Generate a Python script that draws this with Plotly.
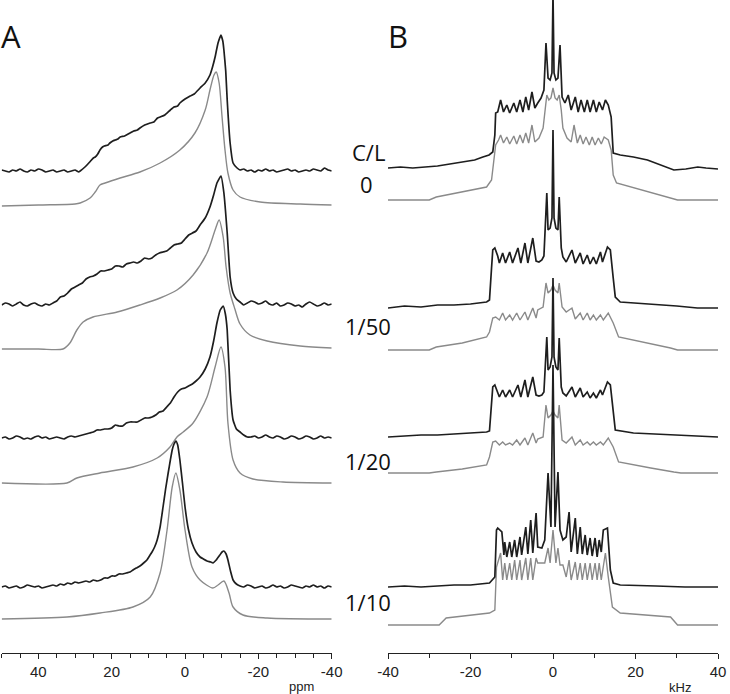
import plotly.graph_objects as go

# ---------------- Panel A (ppm) ----------------
a1_blk_x = [50,49,48,47,46,45,44,43,42,41,40,39,38,37,36,35,34,33,32,31,30,29,28.6,27.3,26,25,24.5,23.8,23.2,22.5,22,21,20.5,19.7,19,18.3,17.7,16.5,15,14,13,12.3,11,9.5,8.5,7.5,6.8,5.5,4,3,2,1.4,0,-1.4,-2.5,-4.1,-5.5,-6.8,-7.5,-8.2,-9,-9.8,-10.3,-10.6,-11.1,-11.5,-12.3,-13.1,-14.2,-15,-16,-17,-18,-19,-20,-21,-22,-23,-24,-25,-26,-27,-28,-29,-30,-31,-32,-33,-34,-35,-36,-37,-38,-39,-40]
a1_blk_y = [1,0,-1,1,0,2,0,-1,1,0,2,1,-1,0,1,-1,0,1,-1,0,1,-1,0,4,9,13,14,17,21,24,25,26,28,30,31,32,34,35,38,40,41,43,46,48,49,53,54,56,61,64,65,68,72,75,77,83,88,96,104,114,128,136,130,121,100,71,28,8,3,1,2,0,1,-1,1,0,2,0,1,-1,0,1,2,0,1,-1,0,1,0,2,1,0,3,1,0]
a1_gry_x = [50,40,30,28.6,25.9,24.5,23.2,21.8,17.7,12.3,6.8,1.4,-2.7,-5.5,-6.8,-7.9,-8.5,-9.3,-10.1,-10.9,-11.7,-13.1,-15,-20.5,-31.4,-40]
a1_gry_y = [0,1,2,3,8,14,21,23,28,34,43,56,73,96,116,131,134,123,89,56,33,16,9,4,2,1]

a2_blk_x = [50,49,48,47,46,45,44,43,42,41,40,39,38,37,36,35,34,33,32,31,30,29,28,27,26,25,24,23,22,21,20,19,18,17,16,15,14,13,12,11,10,9,8,7,6,5,4,3,2,1,0,-1,-2,-3,-4.1,-5.5,-6.8,-7.8,-8.7,-9.8,-10.6,-11.5,-12.3,-13.1,-14,-15,-16,-17,-18,-19,-20,-21,-22,-23,-24,-25,-26,-27,-28,-29,-30,-31,-32,-33,-34,-35,-36,-37,-38,-39,-40]
a2_blk_y = [0,2,1,-1,1,3,0,-1,1,2,0,-1,1,0,2,4,8,9,12,16,18,20,22,26,28,29,31,34,34,35,36,39,39,38,41,42,43,42,44,47,46,47,50,52,53,54,57,60,61,62,66,70,72,74,80,87,98,110,122,129,112,72,28,12,6,3,0,2,4,3,1,2,4,1,0,2,-1,0,2,1,-1,0,-2,1,3,1,-1,0,2,0,1]
a2_gry_x = [50,40,33.3,31.4,29.5,27.8,25.1,18.5,12.3,6.8,2.2,-2.2,-6,-8.2,-9.3,-10.4,-11.2,-12.3,-13.6,-15,-17.7,-22.4,-31.4,-40]
a2_gry_y = [0,0,0,6,19,27,32,37,44,51,59,74,96,119,129,112,82,56,40,25,14,8,3,1]

a3_blk_x = [50,49,48,47,46,45,44,43,42,41,40,39,38,37,36,35,34,33,32,31,30,29,28,27,26,25,24,23,22,21,20,19,18,17,16,15,14,13,12,11,10,9,8,7,6,5,4,3,2,1,0,-1,-2,-3,-4.1,-5.5,-6.8,-7.8,-8.7,-9.6,-10.4,-11,-11.5,-12.3,-13.1,-14,-15,-16,-17,-18,-19,-20,-21,-22,-23,-24,-25,-26,-27,-28,-29,-30,-31,-32,-33,-34,-35,-36,-37,-38,-39,-40]
a3_blk_y = [0,1,-1,0,2,1,-1,0,-1,1,2,0,1,-1,0,1,0,-1,1,2,1,2,3,4,5,6,8,8,9,9,10,13,12,12,15,16,16,16,18,20,20,21,23,26,27,31,35,41,46,49,50,52,54,57,61,69,81,97,115,128,132,124,108,48,18,9,6,3,1,1,2,0,1,3,1,0,2,1,-1,0,2,1,-1,0,2,1,-1,0,2,0,1,0]
a3_gry_x = [50,32.2,29.5,23.2,14.2,7.6,4.1,2.2,0.5,-2.2,-6,-8.2,-9.8,-10.9,-11.7,-13.1,-15,-18.5,-26.7,-40]
a3_gry_y = [0,0,5,10,16,25,36,46,51,60,86,116,136,116,60,23,10,4,1,0]

a4_blk_x = [50,49,48,47,46,45,44,43,42,41,40,39,38,37,36,35,34,33,32,31,30,29,28,27,26,25,24,23,22,21,20,19,18,17,16,15,14.2,13.3,12.3,11.3,10.4,9.7,9,8.3,7.6,6.8,6,5.3,4.6,4,3.5,3,2.5,2,1.4,0.7,0,-0.9,-1.9,-3,-4.1,-5,-6,-7,-7.6,-8.5,-9.5,-10.1,-10.6,-11.2,-11.7,-12.4,-13.1,-14,-15,-16,-17,-18,-19,-20,-21,-22,-23,-24,-25,-26,-27,-28,-29,-30,-31,-32,-33,-34,-35,-36,-37,-38,-39,-40]
a4_blk_y = [0,1,-1,0,1,-1,0,2,1,0,1,-1,0,1,2,1,3,2,4,3,5,4,5,6,5,7,6,7,9,9,11,11,13,13,14,15,17,19,21,24,27,31,35,40,47,60,80,98,114,127,137,143,146,142,127,104,80,58,44,35,30,28,26,25,24,27,32,35,36,33,27,16,7,3,1,0,2,1,-1,0,1,-1,0,2,0,1,-1,0,2,1,0,-1,1,0,2,0,1,-1,1,0]
a4_gry_x = [50,32.2,23.2,14.2,9.5,6.8,4.9,3.5,2.5,1.4,0,-1.9,-4.1,-7.6,-9,-10.6,-12,-13.1,-15.8,-22.4,-40]
a4_gry_y = [0,2,6,12,22,46,89,132,146,129,89,52,39,31,34,38,26,12,4,1,0]

a_blk_offsets = [482, 348, 215, 66]
a_gry_offsets = [447, 304, 170, 34]

# ---------------- Panel B (kHz) ----------------
b1_blk_x = [-40,-37,-34,-31,-28,-25,-22,-19,-17,-15.5,-14.6,-14.1,-13.9,-13.4,-12.7,-12,-11.2,-10.5,-9.5,-8.8,-8,-7.3,-6.6,-5.9,-5.1,-4.4,-3.7,-2.9,-2.2,-1.7,-1.2,-0.7,-0.25,0,0.25,0.7,1.2,1.7,2.2,2.9,3.7,4.4,5.4,6.1,6.8,7.6,8.3,9,9.8,10.5,11.2,12,12.7,13.4,14.1,14.6,16.3,19.5,22.9,26.1,29.3,32.2,35.1,37.1,40]
b1_blk_y = [0,1,0,1,2,4,6,8,11,13,16,33,55,56,68,56,63,55,65,56,68,56,71,58,76,60,65,70,78,125,90,88,95,175,95,88,90,123,71,65,73,58,71,56,68,56,68,56,68,56,66,58,68,63,51,15,13,11,8,3,-2,-1,1,0,-1]
b1_gry_x = [-40,-35,-30,-28.3,-22,-16.1,-14.9,-14.4,-13.9,-13.2,-12.7,-12,-11.2,-10.5,-9.5,-8.8,-8,-7.3,-6.6,-5.9,-5.1,-4.4,-3.4,-2.4,-2,-1.5,-1,-0.5,0,0.5,1,1.5,2,2.4,3.4,4.4,5.1,5.9,6.6,7.3,8,8.8,9.5,10.2,11,11.7,12.4,13.4,14.1,14.6,15.4,18.8,23.7,28.5,30.2,40]
b1_gry_y = [0,0,0,3,8,13,20,40,55,60,65,57,63,56,64,56,65,57,67,57,75,58,62,72,90,105,100,102,112,102,100,105,90,72,62,58,75,57,65,56,63,55,63,55,62,56,63,60,50,25,17,13,8,2,0,0]

b2_blk_x = [-40,-36,-32,-28,-24,-20,-16.1,-15.4,-14.9,-14.6,-14.1,-13.4,-13,-12.2,-11.5,-10.5,-9.8,-8.5,-7.8,-6.8,-6.1,-4.9,-4.1,-3.4,-2.7,-2.2,-1.5,-1.2,-0.7,-0.25,0,0.25,0.7,1.2,1.5,2,2.4,3.2,4.6,5.4,6.6,7.3,8.3,9,9.8,10.5,11.5,12,13.2,13.9,14.6,15.1,16.3,20,25,30,35,40]
b2_blk_y = [0,2,1,3,3,4,6,8,40,58,60,52,45,55,45,56,45,60,45,65,45,70,47,46,48,52,115,78,80,90,178,90,80,78,111,60,51,46,58,45,55,44,53,44,51,44,56,46,61,58,30,11,6,5,3,2,0,0]
b2_gry_x = [-40,-30,-28.3,-22,-16.1,-15.4,-14.6,-13.9,-13,-12.2,-11.5,-10.5,-9.8,-8.8,-8,-6.8,-6.1,-4.9,-4.1,-3.7,-2.4,-1.7,-1.2,-0.5,0,0.5,1.2,1.5,2.2,3.2,4.6,5.4,6.6,7.3,8.3,9,9.8,10.5,11.5,12.2,13.4,14.6,15.9,19.5,23.7,28.5,30.2,40]
b2_gry_y = [0,0,3,7,13,18,32,33,30,37,30,35,30,37,30,38,30,42,32,40,43,67,57,60,65,60,57,67,43,38,42,31,37,30,37,30,35,30,35,30,37,27,13,10,6,2,0,0]

b3_blk_x = [-40,-36,-32,-28,-24,-20,-16.1,-15.4,-14.9,-14.6,-14.1,-13.4,-13,-12.2,-11.5,-10.5,-9.8,-8.5,-7.8,-6.8,-6.1,-4.9,-4.1,-3.4,-2.7,-2.2,-1.5,-1.2,-0.7,-0.25,0,0.25,0.7,1.2,1.5,2,2.4,3.2,4.6,5.4,6.6,7.3,8.3,9,9.8,10.5,11.5,12,13.2,13.9,14.6,15.1,19.5,25,31,36,40]
b3_blk_y = [0,1,2,2,3,4,5,6,35,50,52,43,40,47,40,47,40,52,40,57,40,60,42,41,42,45,100,67,70,80,159,80,70,67,99,50,44,41,50,40,49,40,45,39,44,39,47,42,55,52,25,7,4,3,2,1,0]
b3_gry_x = [-40,-30,-28.3,-22,-16.1,-15.4,-14.6,-13.9,-13,-12.2,-11.5,-10.5,-9.8,-8.8,-8,-6.8,-6.1,-4.9,-4.1,-3.7,-2.4,-1.7,-1.2,-0.5,0,0.5,1.2,1.5,2.2,3.2,4.6,5.4,6.6,7.3,8.3,9,9.8,10.5,11.5,12.2,13.4,14.6,15.9,19.5,23.7,29.3,31,40]
b3_gry_y = [0,0,1,4,8,16,31,32,28,31,28,30,28,33,28,35,28,40,30,34,36,68,55,58,62,58,55,68,33,30,36,28,33,28,31,28,31,28,31,28,35,26,11,8,5,1,0,0]

b4_blk_x = [-40,-36,-32,-28,-24,-20,-15.4,-14.1,-13.7,-13.4,-12.4,-11.9,-11.7,-11.2,-10.5,-10,-9.3,-8.8,-8,-7.6,-6.6,-6.1,-5.4,-4.9,-4.1,-3.7,-2.7,-2,-1.2,-0.5,0,0.5,1.2,1.7,2.4,3.2,3.9,4.4,5.4,5.9,6.6,7.1,7.8,8.3,9,9.5,10.2,10.7,11.2,11.7,12.2,13.2,13.9,14.6,16.3,25,32,40]
b4_blk_y = [0,1,0,1,2,2,4,10,57,59,55,32,45,30,45,30,47,30,50,32,60,33,67,34,74,40,39,47,114,60,222,60,115,57,47,50,75,35,69,33,60,33,52,32,49,31,49,30,47,35,57,59,17,4,2,1,0,0]
b4_gry_x = [-40,-30,-27.6,-25.9,-15.4,-14.1,-13.7,-12.7,-12.2,-11.7,-11.2,-10.5,-10,-9.3,-8.8,-8,-7.6,-6.6,-6.1,-5.4,-4.9,-4.1,-3.7,-2,-1.2,-0.7,0,0.7,1.2,1.7,2.4,3.2,3.9,4.4,5.4,5.9,6.6,7.1,7.8,8.3,9,9.5,10.2,10.7,11.2,11.7,12.7,13.4,14.4,16.3,28.5,30.2,40]
b4_gry_y = [0,0,0,7,12,15,58,72,45,62,45,62,45,65,45,65,45,67,45,67,45,67,62,62,77,62,95,62,77,60,60,48,65,45,63,45,62,45,62,45,62,45,62,45,62,45,72,48,18,12,8,0,0]

b_blk_offsets = [485, 345, 216, 66]
b_gry_offsets = [453, 303, 180, 28]

a_ticks = [40, 20, 0, -20, -40]
a_tick_text = ["40", "20", "0", "-20", "-40"]
b_ticks = [-40, -20, 0, 20, 40]
b_tick_text = ["-40", "-20", "0", "20", "40"]

row_labels = ["C/L", "0", "1/50", "1/20", "1/10"]

BLACK = "#1e1e1e"
GRAY = "#8a8a8a"

# figure geometry (pixels): plot area spans y = 0 .. 653 from the top
FIG_W, FIG_H, PLOT_BOTTOM = 730, 694, 653

fig = go.Figure()

a_blk = [(a1_blk_x, a1_blk_y), (a2_blk_x, a2_blk_y), (a3_blk_x, a3_blk_y), (a4_blk_x, a4_blk_y)]
a_gry = [(a1_gry_x, a1_gry_y), (a2_gry_x, a2_gry_y), (a3_gry_x, a3_gry_y), (a4_gry_x, a4_gry_y)]
b_blk = [(b1_blk_x, b1_blk_y), (b2_blk_x, b2_blk_y), (b3_blk_x, b3_blk_y), (b4_blk_x, b4_blk_y)]
b_gry = [(b1_gry_x, b1_gry_y), (b2_gry_x, b2_gry_y), (b3_gry_x, b3_gry_y), (b4_gry_x, b4_gry_y)]

for (x, y), off in zip(a_gry, a_gry_offsets):
    fig.add_trace(go.Scatter(x=x, y=[v + off for v in y], mode="lines", xaxis="x", yaxis="y",
                             line=dict(color=GRAY, width=1.4, shape="spline", smoothing=0.8), hoverinfo="skip"))
for (x, y), off in zip(a_blk, a_blk_offsets):
    fig.add_trace(go.Scatter(x=x, y=[v + off for v in y], mode="lines", xaxis="x", yaxis="y",
                             line=dict(color=BLACK, width=1.7, shape="spline", smoothing=0.4), hoverinfo="skip"))
for (x, y), off in zip(b_gry, b_gry_offsets):
    fig.add_trace(go.Scatter(x=x, y=[v + off for v in y], mode="lines", xaxis="x2", yaxis="y",
                             line=dict(color=GRAY, width=1.4), hoverinfo="skip"))
for (x, y), off in zip(b_blk, b_blk_offsets):
    fig.add_trace(go.Scatter(x=x, y=[v + off for v in y], mode="lines", xaxis="x2", yaxis="y",
                             line=dict(color=BLACK, width=1.7), hoverinfo="skip"))

tickfont = dict(family="Liberation Sans, Arial, sans-serif", size=15, color="#222")
axis_common = dict(showline=True, linecolor="#222", linewidth=1.3, ticks="outside", ticklen=5,
                   tickwidth=1.2, tickcolor="#222", showgrid=False, zeroline=False, tickfont=tickfont,
                   anchor="y", fixedrange=True, automargin=False)

fig.update_layout(
    width=FIG_W, height=FIG_H, autosize=False,
    margin=dict(l=0, r=0, t=0, b=FIG_H - PLOT_BOTTOM, pad=0, autoexpand=False),
    paper_bgcolor="white", plot_bgcolor="white",
    showlegend=False,
    xaxis=dict(domain=[1.7 / 730, 331.7 / 730], range=[50, -40], tickvals=a_ticks, ticktext=a_tick_text,
               minor=dict(dtick=5, ticks="outside", ticklen=4, tickcolor="#222"), **axis_common),
    xaxis2=dict(domain=[388 / 730, 718 / 730], range=[-40, 40], tickvals=b_ticks, ticktext=b_tick_text,
                minor=dict(dtick=10, ticks="outside", ticklen=4, tickcolor="#222"), **axis_common),
    yaxis=dict(range=[0, PLOT_BOTTOM], visible=False, fixedrange=True, automargin=False),
)

lab_font = dict(family="Open Sans, Noto Sans, sans-serif", size=22, color="#111")
big_font = dict(family="Open Sans, Noto Sans, sans-serif", size=31, color="#111")
small_font = dict(family="Liberation Sans, Arial, sans-serif", size=13, color="#222")
# (text, pixel x centre, pixel y centre, font)
texts = [("A", 11, 36, big_font), ("B", 398, 36, big_font),
         ("ppm", 301, 686, small_font), ("kHz", 680, 687, small_font)]
for lab, py in zip(row_labels, [152, 184, 326, 461, 602]):
    texts.append((lab, 368 if lab != "0" else 366, py, lab_font))

ann = []
for t, px, py, f in texts:
    ann.append(dict(text=t, x=px / FIG_W, y=(PLOT_BOTTOM - py) / PLOT_BOTTOM, xref="paper", yref="paper",
                    showarrow=False, xanchor="center", yanchor="middle", font=f))
fig.update_layout(annotations=ann)

fig.write_html("out.html", config={"responsive": False, "displayModeBar": False},
               post_script="document.body.style.margin='0';document.body.style.overflow='hidden';")
